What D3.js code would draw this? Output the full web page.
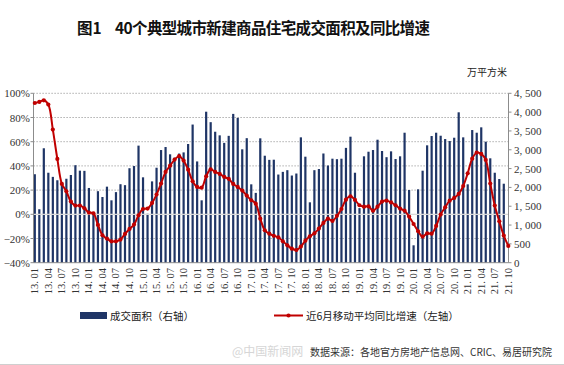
<!DOCTYPE html>
<html>
<head>
<meta charset="utf-8">
<script src="https://cdn.jsdelivr.net/npm/d3@7"></script>
<style>
  body { margin: 0; background: #fff; }
  svg { display: block; }
</style>
</head>
<body>
<svg id="chart" width="564" height="365"></svg>
<script>
'use strict';

const months = [
    '13.01','13.02','13.03','13.04','13.05','13.06','13.07','13.08','13.09','13.10','13.11','13.12',
    '14.01','14.02','14.03','14.04','14.05','14.06','14.07','14.08','14.09','14.10','14.11','14.12',
    '15.01','15.02','15.03','15.04','15.05','15.06','15.07','15.08','15.09','15.10','15.11','15.12',
    '16.01','16.02','16.03','16.04','16.05','16.06','16.07','16.08','16.09','16.10','16.11','16.12',
    '17.01','17.02','17.03','17.04','17.05','17.06','17.07','17.08','17.09','17.10','17.11','17.12',
    '18.01','18.02','18.03','18.04','18.05','18.06','18.07','18.08','18.09','18.10','18.11','18.12',
    '19.01','19.02','19.03','19.04','19.05','19.06','19.07','19.08','19.09','19.10','19.11','19.12',
    '20.01','20.02','20.03','20.04','20.05','20.06','20.07','20.08','20.09','20.10','20.11','20.12',
    '21.01','21.02','21.03','21.04','21.05','21.06','21.07','21.08','21.09','21.10'
];

// 成交面积 (万平方米), right axis
const area = [
    2350, 1420, 3040, 2390, 2280, 2190, 2080, 2230, 2330, 2590, 2445, 2440,
    1985, 1350, 1900, 1745, 2020, 1657, 1875, 2085, 2060, 2510, 2568, 3110,
    2268, 1300, 2160, 2523, 2993, 3073, 2879, 2790, 2900, 2930, 3153, 3670,
    2690, 1657, 4011, 3733, 3479, 3383, 3183, 3370, 3953, 3847, 3012, 3308,
    2082, 1855, 3304, 2842, 2732, 2736, 2342, 2413, 2458, 2316, 2369, 3330,
    2816, 1604, 2458, 2488, 2901, 2582, 2763, 2750, 2763, 3050, 3347, 2390,
    1450, 2826, 2948, 2993, 3267, 2967, 2803, 2958, 2754, 2826, 3453, 1931,
    462, 1949, 2444, 3118, 3365, 3453, 3373, 3285, 3232, 3320, 3995, 3330,
    2082, 3524, 3453, 3596, 3214, 2773, 2390, 2223, 2098
];

// 近6月移动平均同比增速 (%), left axis
const growth = [
    92, 92.9, 94.2, 90.7, 70, 45.8, 25.1, 19, 10.5, 7.2, 7.2, 5,
    1.4, 0.8, -8.8, -17.3, -20.1, -22.3, -22.3, -20.9, -16.2, -12.1, -8.5, -0.8,
    4.4, 4.7, 9.4, 16.3, 25.4, 35, 40.2, 45.2, 48, 44.4, 36.9, 27.3,
    22.6, 22, 31.4, 37.2, 35, 33.4, 30.9, 29.3, 25.1, 22.6, 19.6, 15.5,
    11.6, 8.8, -3.6, -13.2, -16, -17.8, -19, -22.3, -25.6, -28.4, -29.5, -26.7,
    -21.8, -18.2, -15.7, -11.8, -7.1, -3.6, -5.5, -1.3, 4.4, 12.1, 14.9, 11.9,
    7.5, 6.3, 6.6, 3.0, 6.3, 10.5, 11.3, 9.8, 7.5, 4.7, 3, -1.9,
    -8, -14, -18.4, -15.7, -16, -9.6, -0.2, 5.8, 11.3, 13.5, 16.8, 23.4,
    33.9, 46, 51, 49.9, 44.9, 25.4, 7.2, -5.8, -17.6, -26.1
];

const xTickLabels = [
    '13.01','13.04','13.07','13.10','14.01','14.04','14.07','14.10',
    '15.01','15.04','15.07','15.10','16.01','16.04','16.07','16.10',
    '17.01','17.04','17.07','17.10','18.01','18.04','18.07','18.10',
    '19.01','19.04','19.07','19.10','20.01','20.04','20.07','20.10',
    '21.01','21.04','21.07','21.10'
];
const leftTicks = [-40, -20, 0, 20, 40, 60, 80, 100];
const rightTicks = [0, 500, 1000, 1500, 2000, 2500, 3000, 3500, 4000, 4500];

const svg = d3.select('#chart');
const cjk = '"Noto Sans CJK SC", "Noto Sans", sans-serif';
const serif = '"Liberation Serif", "DejaVu Serif", serif';
const barColor = '#1f3566';
const lineColor = '#c00000';

const plotLeft = 33.5;
const plotRight = 508.5;
const plotTop = 93.3;
const plotBottom = 262.7;

const x = d3.scalePoint().domain(months).range([34.8, 508.3]);
const yLeft = d3.scaleLinear().domain([-40, 100]).range([plotBottom, plotTop]);
const yRight = d3.scaleLinear().domain([0, 4500]).range([plotBottom, plotTop]);

// title
svg.append('text')
    .attr('x', 77).attr('y', 34)
    .style('font-family', cjk).style('font-size', '15.5px').style('font-weight', 700)
    .attr('fill', '#111')
    .text('图1');
svg.append('text')
    .attr('x', 115).attr('y', 34)
    .attr('textLength', 315)
    .style('font-family', cjk).style('font-size', '15.5px').style('font-weight', 700)
    .attr('fill', '#111')
    .text('40个典型城市新建商品住宅成交面积及同比增速');

svg.append('text')
    .attr('x', 467).attr('y', 76)
    .style('font-family', cjk).style('font-size', '10px')
    .attr('fill', '#222')
    .text('万平方米');

// gridlines (dotted)
svg.append('g')
    .selectAll('line')
    .data(leftTicks.filter((d) => d !== -40 && d !== 0))
    .enter().append('line')
    .attr('x1', plotLeft).attr('x2', plotRight)
    .attr('y1', (d) => yLeft(d)).attr('y2', (d) => yLeft(d))
    .attr('stroke', '#9a9a9a')
    .attr('stroke-width', 1)
    .attr('stroke-dasharray', '1.2,1.8');

// bars
svg.append('g')
    .selectAll('rect')
    .data(area)
    .enter().append('rect')
    .attr('x', (d, i) => x(months[i]) - 1.1)
    .attr('y', (d) => yRight(d))
    .attr('width', 2.2)
    .attr('height', (d) => plotBottom - yRight(d))
    .attr('fill', barColor);

// 0% line drawn light over the bars
svg.append('line')
    .attr('x1', plotLeft).attr('x2', plotRight)
    .attr('y1', yLeft(0)).attr('y2', yLeft(0))
    .attr('stroke', '#d8d8d8')
    .attr('stroke-width', 1.2);

// axes lines
const axisColor = '#8c8c8c';
svg.append('line')
    .attr('x1', plotLeft).attr('x2', plotLeft)
    .attr('y1', plotTop).attr('y2', plotBottom)
    .attr('stroke', axisColor);
svg.append('line')
    .attr('x1', plotRight).attr('x2', plotRight)
    .attr('y1', plotTop).attr('y2', plotBottom)
    .attr('stroke', axisColor);
svg.append('line')
    .attr('x1', plotLeft).attr('x2', plotRight)
    .attr('y1', plotBottom).attr('y2', plotBottom)
    .attr('stroke', axisColor);

// left axis ticks + labels
const leftAxis = svg.append('g');
leftAxis.selectAll('line')
    .data(leftTicks)
    .enter().append('line')
    .attr('x1', plotLeft - 3).attr('x2', plotLeft)
    .attr('y1', (d) => yLeft(d)).attr('y2', (d) => yLeft(d))
    .attr('stroke', axisColor);
leftAxis.selectAll('text')
    .data(leftTicks)
    .enter().append('text')
    .attr('x', 30)
    .attr('y', (d) => yLeft(d) + 4)
    .attr('text-anchor', 'end')
    .style('font-family', serif).style('font-size', '11px')
    .attr('fill', '#333')
    .text((d) => (d < 0 ? '\u2212' + Math.abs(d) : d) + '%');

// right axis ticks + labels
const fmtRight = (d) => (d >= 1000 ? Math.floor(d / 1000) + ', ' + d3.format('03d')(d % 1000) : String(d));
const rightAxis = svg.append('g');
rightAxis.selectAll('line')
    .data(rightTicks)
    .enter().append('line')
    .attr('x1', plotRight).attr('x2', plotRight + 3)
    .attr('y1', (d) => yRight(d)).attr('y2', (d) => yRight(d))
    .attr('stroke', axisColor);
rightAxis.selectAll('text')
    .data(rightTicks)
    .enter().append('text')
    .attr('x', 514)
    .attr('y', (d) => yRight(d) + 4)
    .style('font-family', serif).style('font-size', '11px')
    .attr('fill', '#333')
    .text(fmtRight);

// x labels, rotated
svg.append('g')
    .selectAll('text')
    .data(xTickLabels)
    .enter().append('text')
    .attr('transform', (d) => `translate(${x(d) + 3.5},268) rotate(-90)`)
    .attr('text-anchor', 'end')
    .style('font-family', serif).style('font-size', '10.5px')
    .attr('fill', '#333')
    .text((d) => d.replace('.', '. '));

// growth line
const line = d3.line()
    .x((d, i) => x(months[i]))
    .y((d) => yLeft(d))
    .curve(d3.curveCatmullRom);

svg.append('path')
    .datum(growth)
    .attr('d', line)
    .attr('fill', 'none')
    .attr('stroke', lineColor)
    .attr('stroke-width', 2);

svg.append('g')
    .selectAll('circle')
    .data(growth)
    .enter().append('circle')
    .attr('cx', (d, i) => x(months[i]))
    .attr('cy', (d) => yLeft(d))
    .attr('r', 2.1)
    .attr('fill', lineColor);

// legend
svg.append('rect')
    .attr('x', 80).attr('y', 312)
    .attr('width', 27).attr('height', 7)
    .attr('fill', barColor);
svg.append('text')
    .attr('x', 110).attr('y', 320)
    .style('font-family', cjk).style('font-size', '10.5px')
    .attr('fill', '#222')
    .text('成交面积（右轴）');

svg.append('line')
    .attr('x1', 274).attr('x2', 303)
    .attr('y1', 315.5).attr('y2', 315.5)
    .attr('stroke', lineColor).attr('stroke-width', 2);
svg.append('circle')
    .attr('cx', 288.5).attr('cy', 315.5).attr('r', 2.1)
    .attr('fill', lineColor);
svg.append('text')
    .attr('x', 306).attr('y', 320)
    .style('font-family', cjk).style('font-size', '10.5px')
    .attr('fill', '#222')
    .text('近6月移动平均同比增速（左轴）');

// watermark + source
svg.append('text')
    .attr('x', 232).attr('y', 356)
    .style('font-family', cjk).style('font-size', '12px')
    .attr('fill', '#d6d6d6')
    .text('@中国新闻网');
svg.append('text')
    .attr('x', 310).attr('y', 356)
    .style('font-family', cjk).style('font-size', '10px')
    .attr('fill', '#333')
    .text('数据来源：各地官方房地产信息网、CRIC、易居研究院');

svg.append('line')
    .attr('x1', 0).attr('x2', 564)
    .attr('y1', 364.5).attr('y2', 364.5)
    .attr('stroke', '#cfcfcf');
</script>
</body>
</html>
